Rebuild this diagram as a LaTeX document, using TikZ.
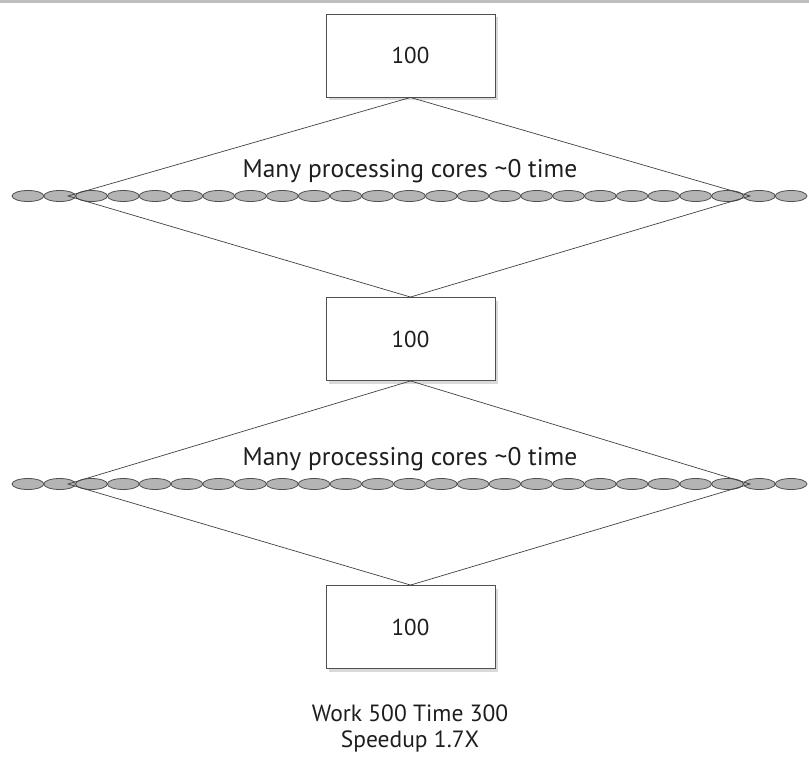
\documentclass[tikz,border=0pt]{standalone}
\usepackage{fontspec}
\setmainfont{PT Sans}
\usetikzlibrary{positioning,shadows,shapes.geometric}
\definecolor{tinta}{HTML}{1E1E1E}
\definecolor{borde}{HTML}{505050}
\definecolor{relleno}{HTML}{B4B4B4}
\definecolor{marco}{HTML}{BEBEBE}
\tikzset{
  caja/.style={rectangle,draw=borde,fill=white,line width=0.9pt,minimum width=169pt,minimum height=83pt,inner sep=0pt,font=\fontsize{23}{28}\selectfont,text=tinta,drop shadow={shadow xshift=3pt,shadow yshift=-3pt,opacity=0.3}},
  celda/.style={ellipse,draw=borde,fill=relleno,line width=0.8pt,minimum width=31.8pt,minimum height=11pt,inner sep=0pt},
  arista/.style={draw=tinta!85,line width=0.7pt},
  rotulo/.style={font=\fontsize{25.5}{30}\selectfont,text=tinta,inner sep=0pt},
  resumen/.style={font=\fontsize{23.5}{26}\selectfont,text=tinta,inner sep=0pt,align=center},
}
\begin{document}
\begin{tikzpicture}[x=1pt,y=-1pt]
\useasboundingbox (0,0) rectangle (809,760);
\fill[marco] (0,0) rectangle (809,3);
% cajas de trabajo secuencial
\node[caja] (c1) at (410.5,55.5) {100};
\node[caja] (c2) at (410.5,339) {100};
\node[caja] (c3) at (410.5,627) {100};
% cadenas de nucleos
\foreach \i in {1,...,25} {
  \node[celda] (a\i) at ({12+31.8*(\i-0.5)},196) {};
  \node[celda] (b\i) at ({12+31.8*(\i-0.5)},484) {};
}
\coordinate (pa1) at (68,196);
\coordinate (pa2) at (750,196);
\coordinate (pb1) at (68,484);
\coordinate (pb2) at (750,484);
\node[rotulo] (t1) at (410,171) {Many processing cores \textasciitilde0 time};
\node[rotulo] (t2) at (410,459) {Many processing cores \textasciitilde0 time};
\draw[arista] (c1.south) -- (pa1) -- (c2.north);
\draw[arista] (c1.south) -- (pa2) -- (c2.north);
\draw[arista] (c2.south) -- (pb1) -- (c3.north);
\draw[arista] (c2.south) -- (pb2) -- (c3.north);
\node[resumen] (res) at (410,728) {Work 500 Time 300\\Speedup 1.7X};
\end{tikzpicture}
\end{document}
